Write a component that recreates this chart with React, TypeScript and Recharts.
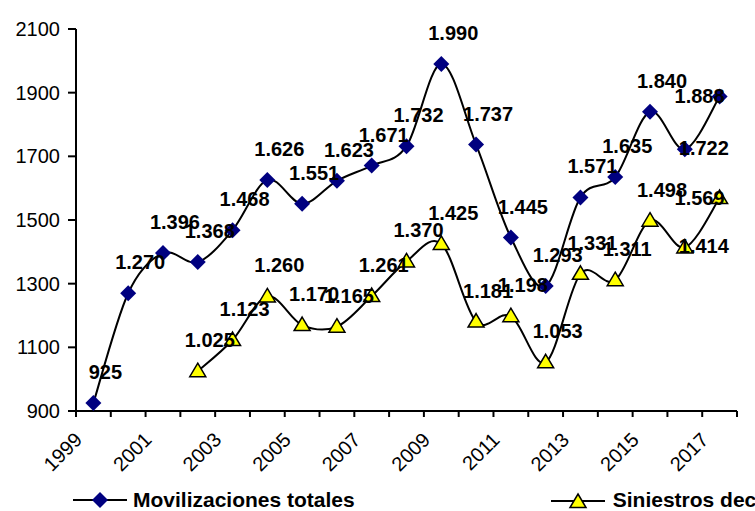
import { LineChart, Line, XAxis, YAxis, Legend, LabelList } from "recharts";

const years = [
  "1999", "2000", "2001", "2002", "2003", "2004", "2005", "2006", "2007", "2008",
  "2009", "2010", "2011", "2012", "2013", "2014", "2015", "2016", "2017",
];
const movilizaciones = [
  925, 1270, 1396, 1368, 1468, 1626, 1551, 1623, 1671, 1732,
  1990, 1737, 1445, 1293, 1571, 1635, 1840, 1722, 1888,
];
const siniestros = [
  null, null, null, 1025, 1123, 1260, 1170, 1165, 1261, 1370,
  1425, 1181, 1198, 1053, 1331, 1311, 1498, 1414, 1569,
];
const yTicks = [900, 1100, 1300, 1500, 1700, 1900, 2100];
const seriesNames = ["Movilizaciones totales", "Siniestros declarados"];

const data = years.map((year, i) => ({
  year,
  mov: movilizaciones[i],
  sin: siniestros[i],
}));

const FONT = "'Liberation Sans', Arial, sans-serif";
const NARROW = "'Liberation Sans Narrow', 'Arial Narrow', 'Liberation Sans', sans-serif";

// Excel-like smoothed line (Catmull-Rom)
const smoothCurve = (context: any) => {
  let pts: number[][] = [];
  return {
    areaStart() {},
    areaEnd() {},
    lineStart() {
      pts = [];
    },
    point(x: number, y: number) {
      pts.push([+x, +y]);
    },
    lineEnd() {
      if (!pts.length) return;
      context.moveTo(pts[0][0], pts[0][1]);
      for (let i = 0; i < pts.length - 1; i++) {
        const p0 = pts[i - 1] || pts[i];
        const p1 = pts[i];
        const p2 = pts[i + 1];
        const p3 = pts[i + 2] || pts[i + 1];
        context.bezierCurveTo(
          p1[0] + (p2[0] - p0[0]) / 6,
          p1[1] + (p2[1] - p0[1]) / 6,
          p2[0] - (p3[0] - p1[0]) / 6,
          p2[1] - (p3[1] - p1[1]) / 6,
          p2[0],
          p2[1]
        );
      }
    },
  };
};

const fmt = (v: number) =>
  v >= 1000 ? `${Math.floor(v / 1000)}.${String(v % 1000).padStart(3, "0")}` : String(v);

const Diamond = ({ cx, cy }: { cx: number; cy: number }) => (
  <polygon
    points={`${cx},${cy - 8} ${cx + 8},${cy} ${cx},${cy + 8} ${cx - 8},${cy}`}
    fill="#000080"
  />
);

const Triangle = ({ cx, cy }: { cx: number; cy: number }) => (
  <polygon
    points={`${cx},${cy - 8} ${cx + 8},${cy + 5.5} ${cx - 8},${cy + 5.5}`}
    fill="#FFFF00"
    stroke="#000"
    strokeWidth={1.5}
  />
);

const renderDiamond = (props: any) => {
  if (props.cy == null || props.value == null) return <g key={`d-${props.index}`} />;
  return <Diamond key={`d-${props.index}`} cx={props.cx} cy={props.cy} />;
};

const renderTriangle = (props: any) => {
  if (props.cy == null || props.value == null) return <g key={`t-${props.index}`} />;
  return <Triangle key={`t-${props.index}`} cx={props.cx} cy={props.cy} />;
};

const renderLabel = (props: any) => {
  const { x, y, value, index } = props;
  if (value == null || x == null || y == null) return null;
  const n = years.length;
  // last point: label to the left, the one before: label to the right
  let lx = x + 12;
  let ly = y - 24;
  if (index === n - 1) {
    lx = x - 20;
    ly = y + 7;
  } else if (index === n - 2) {
    lx = x + 19;
    ly = y + 6;
  }
  return (
    <text
      x={lx}
      y={ly}
      textAnchor="middle"
      fontFamily={NARROW}
      fontSize={20}
      fontWeight="bold"
      fill="#000"
    >
      {fmt(value)}
    </text>
  );
};

const XTick = (props: any) => {
  const { x, y, payload, index } = props;
  const half = payload && payload.offset ? payload.offset : 17.4;
  const last = index === years.length - 1;
  return (
    <g>
      <line x1={x - half} x2={x - half} y1={y} y2={y + 6} stroke="#000" strokeWidth={2} />
      {last && (
        <line x1={x + half} x2={x + half} y1={y} y2={y + 6} stroke="#000" strokeWidth={2} />
      )}
      {index % 2 === 0 && (
        <text
          x={x - 10}
          y={y + 30}
          textAnchor="end"
          transform={`rotate(-45, ${x - 10}, ${y + 30})`}
          fontFamily={FONT}
          fontSize={20}
          fill="#000"
        >
          {payload.value}
        </text>
      )}
    </g>
  );
};

const LegendContent = () => (
  <div
    style={{
      display: "flex",
      alignItems: "center",
      height: 28,
      whiteSpace: "nowrap",
      fontFamily: FONT,
      fontSize: 21,
      fontWeight: "bold",
      color: "#000",
    }}
  >
    <div style={{ display: "flex", alignItems: "center", marginLeft: 73 }}>
      <svg width={54} height={20}>
        <line x1={0} x2={54} y1={10} y2={10} stroke="#000" strokeWidth={2} />
        <Diamond cx={27} cy={10} />
      </svg>
      <span style={{ marginLeft: 6 }}>{seriesNames[0]}</span>
    </div>
    <div style={{ display: "flex", alignItems: "center", marginLeft: 196 }}>
      <svg width={54} height={20}>
        <line x1={0} x2={54} y1={11} y2={11} stroke="#000" strokeWidth={2} />
        <Triangle cx={27} cy={12} />
      </svg>
      <span style={{ marginLeft: 8 }}>{seriesNames[1]}</span>
    </div>
  </div>
);

export default function App() {
  return (
    <div
      style={{
        position: "absolute",
        left: 0,
        top: 0,
        width: 755,
        height: 511,
        overflow: "hidden",
        background: "#fff",
      }}
    >
      <LineChart
        width={755}
        height={511}
        data={data}
        margin={{ top: 29, right: 18, bottom: 0, left: 0 }}
      >
        <XAxis
          dataKey="year"
          scale="band"
          interval={0}
          height={72}
          tickSize={0}
          tickMargin={0}
          tickLine={false}
          axisLine={{ stroke: "#000", strokeWidth: 2 }}
          tick={<XTick />}
        />
        <YAxis
          width={76}
          domain={[900, 2100]}
          ticks={yTicks}
          interval={0}
          tickSize={8}
          tickMargin={8}
          tickLine={{ stroke: "#000", strokeWidth: 2 }}
          axisLine={{ stroke: "#000", strokeWidth: 2 }}
          tick={{ fill: "#000", fontSize: 20, fontFamily: FONT }}
        />
        <Legend
          verticalAlign="bottom"
          height={28}
          content={<LegendContent />}
          wrapperStyle={{ left: 0, top: 486, width: 755, height: 28 }}
        />
        <Line
          name={seriesNames[0]}
          dataKey="mov"
          type={smoothCurve as any}
          stroke="#000"
          strokeWidth={2}
          dot={renderDiamond}
          activeDot={false}
          isAnimationActive={false}
        >
          <LabelList dataKey="mov" content={renderLabel} />
        </Line>
        <Line
          name={seriesNames[1]}
          dataKey="sin"
          type={smoothCurve as any}
          stroke="#000"
          strokeWidth={2}
          dot={renderTriangle}
          activeDot={false}
          isAnimationActive={false}
        >
          <LabelList dataKey="sin" content={renderLabel} />
        </Line>
      </LineChart>
    </div>
  );
}
